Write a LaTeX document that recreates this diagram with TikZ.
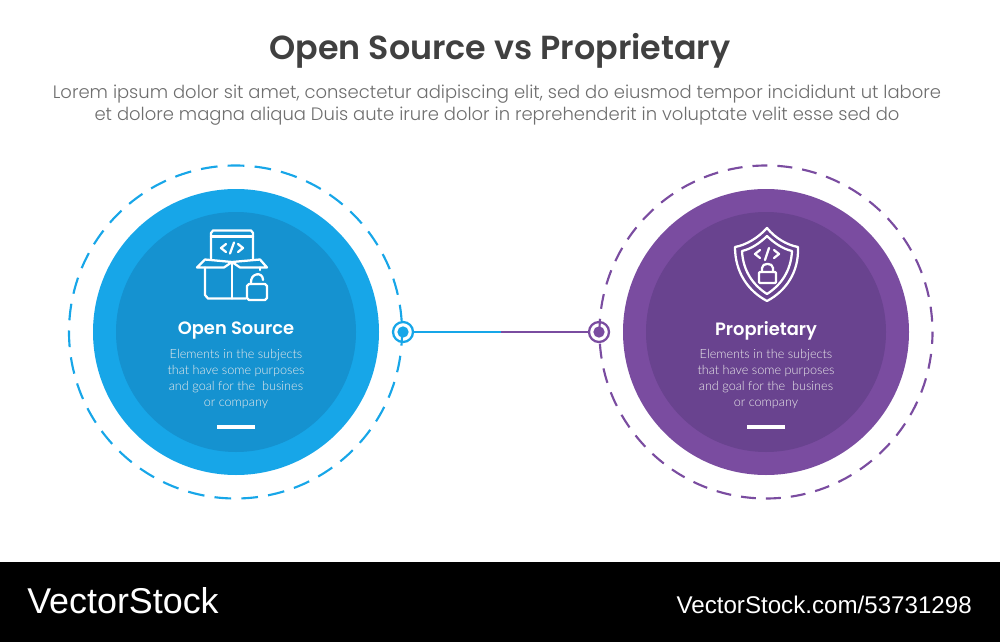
\documentclass[tikz,border=0pt]{standalone}
\usepackage{fontspec}
\setmainfont{Poppins}
\newfontfamily\popsemi{Poppins SemiBold}
\newfontfamily\poplight{Poppins Light}
\newfontfamily\latolight{Lato Light}
\newfontfamily\markfont{Liberation Sans}
\usetikzlibrary{positioning}
\definecolor{blueout}{HTML}{17A6E8}
\definecolor{bluein}{HTML}{1592D0}
\definecolor{purpout}{HTML}{7A4CA0}
\definecolor{purpin}{HTML}{69438F}
\definecolor{titlegray}{HTML}{404040}
\definecolor{textgray}{HTML}{6E6E6E}

\begin{document}
\begin{tikzpicture}[x=0.75pt,y=-0.75pt,
	disc/.style={circle,inner sep=0pt,minimum size=#1*0.75pt},
	ring/.style={circle,draw,line width=1.7pt,fill=white,inner sep=0pt,minimum size=15pt},
	dot/.style={circle,inner sep=0pt,minimum size=8.5pt},
	head/.style={text=white,font=\popsemi\fontsize{13.4}{15}\selectfont},
	body/.style={text=white!92!black,align=center,font=\latolight\fontsize{9.5}{11.8}\selectfont},
	icon/.style={draw=white,line width=1.7pt,line join=round,line cap=round}]

	\useasboundingbox (0,0) rectangle (1000,642);

	% title
	\node[text=titlegray,font=\popsemi\fontsize{25}{28}\selectfont] (title) at (500,51) {Open Source vs Proprietary};
	\node[text=textgray,align=center,font=\poplight\fontsize{13.48}{16.5}\selectfont] (intro) at (497,105)
		{Lorem ipsum dolor sit amet, consectetur adipiscing elit, sed do eiusmod tempor incididunt ut labore\\
		et dolore magna aliqua Duis aute irure dolor in reprehenderit in voluptate velit esse sed do};

	% left circle
	\node[disc=286,fill=blueout] (openout) at (236,332) {};
	\node[disc=240,fill=bluein] (openin) at (236,332) {};
	\node[head] (openhead) at (236,331) {Open Source};
	\node[body] (opentext) at (236,379) {Elements in the subjects\\that have some purposes\\and goal for the~ busines\\or company};
	\fill[white] (217,425) rectangle (255,428.5);

	% right circle
	\node[disc=286,fill=purpout] (propout) at (766,332) {};
	\node[disc=240,fill=purpin] (propin) at (766,332) {};
	\node[head] (prophead) at (766,331) {Proprietary};
	\node[body] (proptext) at (766,379) {Elements in the subjects\\that have some purposes\\and goal for the~ busines\\or company};
	\fill[white] (747,425) rectangle (785,428.5);

	% connector
	\node[ring,draw=blueout] (ringa) at (403,332) {};
	\node[ring,draw=purpout] (ringb) at (599,332) {};
	\draw[blueout,line width=1.6pt,dash pattern=on 12.5pt off 7.67pt,dash phase=2.25pt] (235.5,332) circle (166.5);
	\draw[purpout,line width=1.6pt,dash pattern=on 11.2pt off 7.53pt,dash phase=2.25pt] (766,332) circle (166.5);
	\node[dot,fill=blueout] (dota) at (403,332) {};
	\node[dot,fill=purpout] (dotb) at (599,332) {};
	\coordinate (mid) at (501,332);
	\draw[blueout,line width=1.8pt] (ringa) -- (mid);
	\draw[purpout,line width=1.8pt] (mid) -- (ringb);

	% box icon
	\draw[icon] (211,259) -- (211,233) -- (213,230.5) -- (251,230.5) -- (253,233) -- (253,259);
	\draw[icon] (211,236.5) -- (253,236.5);
	\draw[icon] (226,244) -- (221,248) -- (226,252) (238,244) -- (243,248) -- (238,252) (234,242.5) -- (230,253.5);
	\draw[icon] (232,262) -- (205,259.5) -- (197,267.5) -- (224,267.5) -- (232,262) -- (240,267.5) -- (267,267.5) -- (260,259.5) -- (232,262);
	\draw[icon] (205,267.5) -- (205,295) -- (208,298.5) -- (246,298.5);
	\draw[icon] (232,262) -- (232,298.5);
	\draw[icon] (260,267.5) -- (260,270);
	\draw[icon] (247,286) -- (247,298) -- (249,300) -- (265,300) -- (267,298) -- (267,286) -- (265,284) -- (249,284) -- cycle;
	\draw[icon] (251,283) .. controls (250,273) and (263,271) .. (263,280);

	% shield icon
	\draw[icon] (767,228) .. controls (758,238) and (746,245) .. (735,247) .. controls (735,272) and (748,291) .. (767,301)
		.. controls (786,291) and (799,272) .. (798,247) .. controls (787,245) and (775,238) .. (767,228) -- cycle;
	\draw[icon] (767,236) .. controls (760,243) and (751,249) .. (742,251) .. controls (743,271) and (753,285) .. (767,294)
		.. controls (781,285) and (791,271) .. (792,251) .. controls (783,249) and (774,243) .. (767,236) -- cycle;
	\draw[icon] (760,250) -- (755,254) -- (760,258) (774,250) -- (779,254) -- (774,258) (769,248) -- (765,260);
	\draw[icon] (760,272) -- (775,272) -- (776,273) -- (776,282) -- (775,283) -- (760,283) -- (759,282) -- (759,273) -- cycle;
	\draw[icon] (762,272) -- (762,268) .. controls (762,262.5) and (773,262.5) .. (773,268) -- (773,272);

	% footer
	\fill[black] (0,562) rectangle (1000,642);
	\node[text=white,anchor=west,inner sep=0pt,font=\markfont\fontsize{26.9}{28}\selectfont] (brand) at (27,601) {VectorStock};
	\node[text=white,anchor=east,inner sep=0pt,font=\markfont\fontsize{18.1}{20}\selectfont] (imgid) at (972,605) {VectorStock.com/53731298};
\end{tikzpicture}
\end{document}
